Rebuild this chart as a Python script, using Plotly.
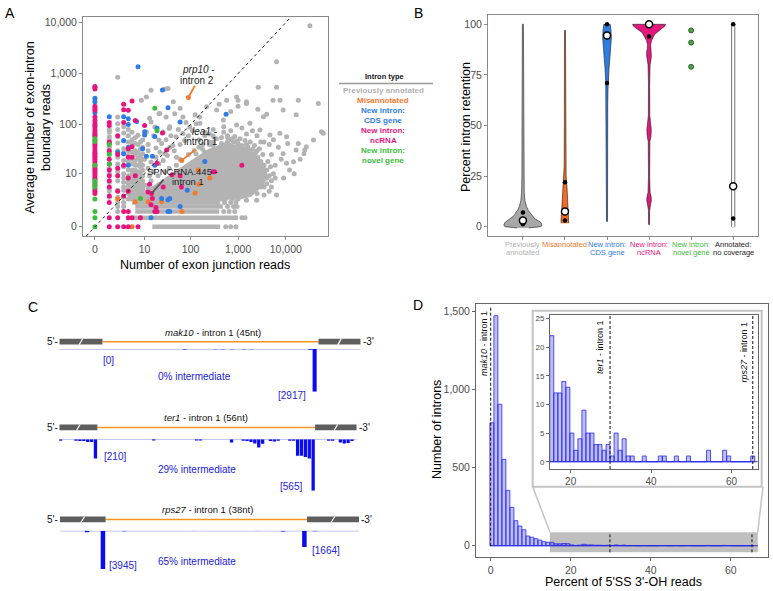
import numpy as np
import plotly.graph_objects as go

W, H = 773, 591
FONT = "Liberation Sans, Arial, Helvetica, sans-serif"

C_GRAY = "#b3b3b3"
C_ORANGE = "#f47a2c"
C_BLUE = "#2e7ce6"
C_PINK = "#e8157f"
C_GREEN = "#3dbd3d"
C_TXTBLUE = "#2222dd"

# ======================= Panel A data =======================
a_tick_values = [0, 10, 100, 1000, 10000]
a_tick_labels = ["0", "10", "100", "1,000", "10,000"]

# dense core of previously annotated introns (outline, in read counts)
gray_core_x = [8, 15, 22, 40, 70, 100, 160, 250, 400, 700, 1000, 1500, 2000, 2600, 3400, 3800, 3200, 2400, 1800, 1000, 200, 30]
gray_core_y = [3, 4.5, 6, 9, 13, 17, 23, 30, 35, 37, 36, 32, 26, 20, 14, 9, 6, 4.5, 3.2, 2.7, 2.7, 2.7]

# saturated horizontal rows of previously annotated introns
gray_rows_y = [0, 0.5, 1, 1.5, 2, 2.5, 3]
gray_rows_x0 = [15, 5, 6, 6, 5, 4, 4]
gray_rows_x1 = [420, 1000, 400, 480, 420, 600, 700]

gray_points = [
    (1, 71), (1, 57), (1, 35), (1, 12.8), (1, 6.5), (1, 4.6), (1, 2.8), (1, 80), (1, 50), (1, 28), (1, 10), (1, 4),
    (2, 850), (2, 140), (2, 104), (2, 80), (2, 57), (2, 43), (2, 30), (2, 22), (2, 16), (2, 11), (2, 7), (2, 4.2), (2, 2.8), (2, 2), (2, 1), (2, 1.5),
    (3, 90), (3, 68), (3, 47), (3, 33), (3, 27), (3, 19), (3, 14), (3, 10), (3, 6.5), (3, 4.2), (3, 2.8), (3, 2), (3, 1.5), (3, 5), (3, 8),
    (4, 80), (4, 60), (4, 45), (4, 30), (4, 24), (4, 18), (4, 12), (4, 9), (4, 7), (4, 5.5), (4, 4.5), (4, 3.5), (4, 2.5), (4, 6),
    (5, 70), (5, 50), (5, 40), (5, 28), (5, 20), (5, 16), (5, 12), (5, 10), (5, 8), (5, 6.5), (5, 5), (5, 4), (5, 3.5), (5, 3),
    (6, 55), (6, 42), (6, 30), (6, 25), (6, 19), (6, 15), (6, 12), (6, 10), (6, 8), (6, 7), (6, 5.5), (6, 4.5), (6, 3.5),
    (7, 61), (7, 40), (7, 28), (7, 21), (7, 15), (7, 11), (7, 9), (7, 7.1), (7, 6), (7, 5), (7, 4), (7, 3.5),
    (8, 45), (8, 32), (8, 24), (8, 18), (8, 14), (8, 11), (8, 9), (8, 7.5), (8, 6), (8, 5), (8, 4),
    (9, 49), (9, 35), (9, 26), (9, 20), (9, 11.8), (9, 15), (9, 9), (9, 7), (9, 6), (9, 5), (9, 4.5), (9, 3.5),
    (8.4, 300), (11, 350), (14, 470), (33, 510), (21, 163), (30, 140), (14, 112), (17, 89), (11, 71), (26, 71), (35, 83),
    (21, 49), (49, 57), (69, 66), (96, 89), (132, 104), (155, 140), (69, 140), (46, 163), (12, 30), (28, 26), (14, 17.6),
    (42, 38), (21, 16.2), (12, 40), (16, 60), (18, 34), (24, 42), (30, 50), (38, 60), (55, 80), (80, 110), (10, 20),
    (12, 13), (13, 9), (16, 11), (18, 22), (22, 28), (26, 19), (32, 24), (36, 35), (45, 30), (50, 22), (60, 40), (75, 48),
    (90, 60), (110, 75),
    (930, 350), (1500, 280), (5400, 300), (8800, 194), (48000, 260), (16500, 155), (355, 194), (218, 225), (125, 155),
    (60, 210), (43, 280), (22, 165), (13, 133), (36, 90), (158, 106), (490, 122), (930, 98), (1770, 106), (2870, 78),
    (4650, 62), (7500, 67), (11000, 42), (8800, 26), (16500, 31), (27000, 36), (38000, 49), (56000, 72), (14500, 17.8),
    (24000, 26), (28, 500), (2650, 540), (6400, 540), (6400, 1720), (32000, 8700), (18300, 300), (575, 300), (1000, 300),
    (1500, 260), (1000, 230), (3400, 143), (3980, 160), (7560, 300), (2600, 200), (700, 180), (400, 250),
    (10400, 57), (18300, 42), (25000, 31), (61000, 67), (10400, 16.5), (6400, 3.2), (2460, 2.3), (1500, 2.3), (3000, 5),
    (4000, 8), (9000, 8), (12000, 12), (20000, 20), (15000, 10), (5000, 25), (7000, 35), (3500, 45), (5500, 50), (8000, 20),
    (6000, 15), (4500, 40), (3000, 45), (2500, 60), (2000, 75), (1500, 65), (1200, 85), (700, 75), (500, 90), (300, 80),
    (250, 65), (200, 70), (600, 60),
    (120, 30), (150, 35), (180, 40), (200, 28), (250, 45), (300, 38), (350, 52), (400, 35), (450, 42), (550, 40), (600, 55),
    (700, 38), (800, 45), (900, 36), (1000, 42), (1200, 38), (1300, 33), (1500, 40), (1700, 30), (2000, 32), (2300, 27),
    (2600, 22), (3000, 18), (3500, 15), (4000, 12), (4500, 9), (5000, 7), (4000, 6), (3500, 5), (2500, 3.5), (300, 60),
    (500, 70), (200, 60), (150, 50), (90, 25), (60, 20), (50, 15), (35, 13), (28, 11), (20, 9), (14, 7), (11, 5.5),
    (12, 4.5), (10, 3.8), (15, 3.5), (20, 3.5),
    (300, 45), (450, 55), (650, 50), (850, 58), (1100, 52), (1400, 48), (1800, 45), (2200, 38), (2800, 33), (3300, 25),
    (4200, 18), (4800, 14), (5500, 10), (6000, 8), (5000, 5), (4500, 4), (3500, 3.2), (250, 40), (180, 32), (130, 26),
    (600, 45), (750, 52), (950, 47), (1600, 36), (2500, 30),
    (550, 0), (700, 0), (900, 0), (1200, 0.5), (1400, 0.5), (500, 1), (650, 1), (850, 1), (600, 1.5), (800, 1.5),
    (950, 1.5), (520, 2), (700, 2), (900, 2), (750, 2.5), (1000, 2.5), (900, 3), (1100, 3),
]

misannotated_points = [(90, 340), (65, 19), (145, 12), (255, 8), (150, 5.8), (125, 3.6), (24, 2.1), (12, 2.1),
                       (6, 2.1), (2, 2.5), (66, 1.0), (5, 0)]

cds_points = [(0, 540), (0, 330), (0, 280), (0, 170), (0, 95), (0, 62), (0, 26), (1, 143), (3, 143), (4, 130), (4, 100),
              (4, 35), (4, 15), (3, 48), (7, 1370), (25, 480), (6.5, 115), (19, 84), (33, 215), (10, 72), (10, 62),
              (17, 58), (9, 33), (11, 23), (15, 23), (200, 18), (85, 4.2), (33, 2.4), (60, 1.5), (33, 1.0), (14, 0.5),
              (560, 160), (60, 112), (17, 15), (36, 2.6), (24, 2.6), (36, 1.0), (2, 28), (3, 26)]

ncrna_points = [(0, 560), (0, 500), (0, 230), (0, 210), (0, 190), (0, 140), (0, 120), (0, 105), (0, 90), (0, 80),
                (0, 72), (0, 65), (0, 58), (0, 48), (0, 42), (0, 38), (0, 34), (0, 30), (0, 27), (0, 24), (0, 22),
                (0, 20), (0, 18), (0, 16), (0, 14.5), (0, 13), (0, 12), (0, 11), (0, 10), (0, 9), (0, 8), (0, 7.5),
                (0, 6.5), (0, 5.5), (0, 4.5), (0, 4), (0, 3.5),
                (1, 110), (1, 95), (1, 45), (1, 42), (1, 30), (1, 20), (1, 16), (1, 12), (1, 9), (1, 7), (1, 5), (1, 3),
                (1, 2), (1, 0.5), (1, 0), (2, 60), (2, 25), (2, 13), (2, 9), (2, 4), (2, 0.5), (2, 0), (3, 250),
                (3, 195), (3, 110), (3, 15), (3, 3), (3, 1), (3, 0), (4, 190), (4, 22), (4, 8), (4, 4), (4, 1),
                (4, 0.5), (4, 0), (5, 290), (5, 36), (5, 22), (5, 0.5), (6, 120), (6, 9), (10, 95), (25, 68),
                (19, 16.5), (300, 11), (60, 9), (40, 9.5), (64, 5), (26, 5), (15, 2.6), (17, 1), (8, 0.5), (7, 0),
                (13, 5.8), (12, 3.8), (18, 1.4), (1200, 15), (320, 11), (31, 31), (14, 1.7), (19, 1.0), (4, 33),
                (14.4, 3.5)]

novel_points = [(0, 52), (0, 46), (0, 15), (0, 7), (0, 6), (0, 5), (0, 2.5), (0, 1), (0, 0.5), (0, 0), (19, 75),
                (8, 2.6), (1, 40), (1, 25), (17, 210), (1, 16)]

# labelled introns (junction reads, boundary reads)
prp10_point = (90, 340)
lea1_point = (65, 19)
spncrna445_point = (14.4, 3.5)

legend_labels = ["Previously annotated", "Misannotated", "New intron:", "CDS gene", "New intron:", "ncRNA",
                 "New intron:", "novel gene"]

# ======================= Panel B data =======================
b_label_line1 = ["Previously", "Misannotated", "New intron:", "New intron:", "New intron:", "Annotated:"]
b_label_line2 = ["annotated", "", "CDS gene", "ncRNA", "novel gene", "no coverage"]
b_label_colors = [C_GRAY, C_ORANGE, C_BLUE, C_PINK, C_GREEN, "#1a1a1a"]
b_fill_colors = ["#a8a8a8", "#f26b22", "#2f7de1", "#e5177e", C_GREEN, "#ffffff"]

b_prev_y = [-0.6, -0.3, 0, 0.5, 1, 2, 3, 4, 5, 6, 7, 8, 10, 13, 17, 25, 50, 100]
b_prev_hw = [0.14, 0.33, 0.42, 0.45, 0.45, 0.43, 0.36, 0.28, 0.24, 0.19, 0.17, 0.13, 0.083, 0.047, 0.031, 0.024, 0.017, 0.012]
b_mis_y = [1.7, 3, 6, 10, 15, 20, 25, 30, 50, 97]
b_mis_hw = [0.09, 0.095, 0.083, 0.071, 0.059, 0.047, 0.028, 0.019, 0.014, 0.012]
b_cds_y = [2.5, 40, 60, 68, 72, 78, 84, 89, 93, 97, 100]
b_cds_hw = [0.012, 0.014, 0.017, 0.024, 0.031, 0.047, 0.071, 0.095, 0.102, 0.095, 0.076]
b_nc_y = [1, 8, 11, 13, 15, 17, 25, 42, 45, 48, 51, 55, 70, 80, 84, 86, 88, 90, 92, 93.5, 95, 96, 97, 98, 99, 100]
b_nc_hw = [0.012, 0.014, 0.036, 0.055, 0.047, 0.024, 0.014, 0.019, 0.047, 0.052, 0.036, 0.017, 0.014, 0.024, 0.055,
           0.059, 0.043, 0.038, 0.062, 0.095, 0.131, 0.166, 0.237, 0.309, 0.368, 0.392]
b_none_y = [-0.4, 0, 100]
b_none_hw = [0.02, 0.038, 0.038]

b_q1 = [1.2, 3, 71, 94, None, 4]
b_median = [3, 7.5, 94.5, 100, None, 20]
b_q3 = [7, 22, 100, 100, None, 100]
b_novel_values = [97, 91, 79]

# ======================= Panel C data =======================
c_titles = ["<i>mak10</i> - intron 1 (45nt)", "<i>ter1</i> - intron 1 (56nt)", "<i>rps27</i> - intron 1 (38nt)"]
c_intron_nt = [45, 56, 38]
c_exon_nt = [(9.0, 8.8), (9.8, 10.7), (8.6, 9.8)]
c_pos = [
    [17.2, 23.5, 25, 27, 29.5, 31, 43.3, 44.2],
    [-9.5, -5.5, -4.5, -3.5, -2.5, -1.5, -0.5, 14.5, 25.5, 26.5, 34.5, 37.5, 38.5, 39.5, 40.5, 41.5, 42.5, 44.5,
     45.5, 46.5, 49.5, 50.5, 51.5, 52.5, 53.5, 54.5, 55.5, 59.5, 60.5, 62.5, 63.5, 64.5, 65.5],
    [-3.5, -0.5, 3.5, 16.5, 28.5, 33.5, 37.5, 39.5],
]
c_reads = [
    [35, 25, 25, 25, 25, 25, 50, 2917],
    [15, 15, 20, 20, 30, 30, 210, 12, 12, 12, 36, 15, 20, 30, 45, 90, 50, 20, 25, 15, 15, 15, 180, 180, 195, 210,
     565, 15, 15, 35, 45, 40, 20],
    [170, 3945, 50, 40, 40, 90, 1664, 60],
]
c_labels_5ss = ["[0]", "[210]", "[3945]"]
c_labels_3ss = ["[2917]", "[565]", "[1664]"]
c_intermediate = ["0% intermediate", "29% intermediate", "65% intermediate"]

# ======================= Panel D data =======================
d_bins = list(range(0, 66))
d_counts = [786, 1470, 904, 552, 354, 245, 160, 126, 102, 62, 54, 45, 36, 26, 22, 22, 12, 12, 14, 13, 5, 2, 4, 9,
            5, 5, 3, 3, 2, 3, 1, 5, 2, 4, 1, 1, 0, 0, 1, 0, 0, 0, 1, 1, 0, 0, 1, 0, 0, 1, 0, 0, 0, 0, 2, 0, 0, 0,
            2, 1, 0, 0, 0, 0, 0, 1]
d_inset_min = 15
d_marked_names = ["<i>mak10</i> - intron 1", "<i>ter1</i> - intron 1", "<i>rps27</i> - intron 1"]
d_marked_pct = [0, 29.8, 65.3]
d_main_ticks = [0, 500, 1000, 1500]
d_main_ticklabels = ["0", "500", "1,000", "1,500"]

# ======================= helpers =======================
def T(v):
    return np.log10(np.asarray(v, dtype=float) + 1.0)

def dom_x(a, b):
    return [a / W, b / W]

def dom_y(top, bottom):
    return [1 - bottom / H, 1 - top / H]

fig = go.Figure()
ann = []
shapes = []

def text(x, y, s, size, color="#000", xanchor="center", yanchor="middle", angle=0):
    ann.append(dict(x=x / W, y=1 - y / H, xref="paper", yref="paper", text=s, showarrow=False,
                    font=dict(size=size, color=color, family=FONT), xanchor=xanchor, yanchor=yanchor,
                    textangle=angle, borderpad=0))

def hline_paper(x0, x1, y, color, width):
    shapes.append(dict(type="line", xref="paper", yref="paper", x0=x0 / W, x1=x1 / W, y0=1 - y / H, y1=1 - y / H,
                       line=dict(color=color, width=width)))

# ======================= Panel A traces =======================
fig.add_trace(go.Scatter(x=T(gray_core_x), y=T(gray_core_y), fill="toself", fillcolor=C_GRAY, mode="lines",
                         line=dict(color=C_GRAY, width=4), xaxis="x", yaxis="y", hoverinfo="skip"))
for ry, rx0, rx1 in zip(gray_rows_y, gray_rows_x0, gray_rows_x1):
    fig.add_trace(go.Scatter(x=T([rx0, rx1]), y=T([ry, ry]), mode="lines", line=dict(color=C_GRAY, width=4.5),
                             xaxis="x", yaxis="y", hoverinfo="skip"))

for pts, col in [(gray_points, C_GRAY), (misannotated_points, C_ORANGE), (cds_points, C_BLUE),
                 (ncrna_points, C_PINK), (novel_points, C_GREEN)]:
    xs, ys = zip(*pts)
    fig.add_trace(go.Scatter(x=T(xs), y=T(ys), mode="markers", marker=dict(color=col, size=5, line=dict(width=0)),
                             xaxis="x", yaxis="y", hoverinfo="skip"))

# diagonal y = x
shapes.append(dict(type="line", xref="x", yref="y", x0=-0.18, y0=-0.18, x1=4.11, y1=4.11,
                   line=dict(color="#222", width=1, dash="3px,3px")))

# labelled intron arrows
for (pt, ax, ay, col) in [(prp10_point, 7.2, -13.3, C_ORANGE), (lea1_point, 15.3, -12, C_ORANGE),
                          (spncrna445_point, 13.3, -15.3, "#555555")]:
    ann.append(dict(x=float(T(pt[0])), y=float(T(pt[1])), xref="x", yref="y", text="", showarrow=True,
                    arrowhead=0, arrowwidth=1.8, arrowcolor=col, ax=ax, ay=ay, axref="pixel", ayref="pixel"))
text(198, 70, "<i>prp10</i> -", 10, "#222")
text(197, 80.5, "intron 2", 10, "#222")
text(204, 131, "<i>lea1</i> -", 10, "#222")
text(201, 141.5, "intron 1", 10, "#222")
text(182, 171.5, "SPNCRNA.445 -", 9.5, "#222")
text(188, 181.5, "intron 1", 9.5, "#222")

# axis titles A
text(205, 265, "Number of exon junction reads", 12.5)
text(37.5, 128, "Average number of exon-intron<br>boundary reads", 12.5, angle=-90)

# legend A
text(384, 77, "<b>Intron type</b>", 7.5, "#111")
hline_paper(339, 433, 83.5, "#9a9a9a", 1.3)
leg_colors = [C_GRAY, C_ORANGE, C_BLUE, C_BLUE, C_PINK, C_PINK, C_GREEN, C_GREEN]
for i, (lab, col) in enumerate(zip(legend_labels, leg_colors)):
    text(383, 90.5 + 10 * i, "<b>" + lab + "</b>", 8, col)

# ======================= Panel B traces =======================
b_profiles = [(b_prev_y, b_prev_hw), (b_mis_y, b_mis_hw), (b_cds_y, b_cds_hw), (b_nc_y, b_nc_hw), None,
              (b_none_y, b_none_hw)]
for i, prof in enumerate(b_profiles):
    if prof is None:
        continue
    cx = i + 1
    ys = np.array(prof[0], dtype=float)
    hw = np.array(prof[1], dtype=float)
    xs = np.concatenate([cx - hw, (cx + hw)[::-1]])
    yy = np.concatenate([ys, ys[::-1]])
    fig.add_trace(go.Scatter(x=xs, y=yy, fill="toself", fillcolor=b_fill_colors[i], mode="lines",
                             line=dict(color="#1a1a1a", width=0.6), xaxis="x2", yaxis="y2", hoverinfo="skip"))

qx, qy = [], []
for i, (a, b) in enumerate(zip(b_q1, b_q3)):
    if a is None:
        continue
    qx += [i + 1, i + 1]
    qy += [a, b]
fig.add_trace(go.Scatter(x=qx, y=qy, mode="markers", marker=dict(color="#000", size=4.5), xaxis="x2", yaxis="y2",
                         hoverinfo="skip"))
mx = [i + 1 for i, m in enumerate(b_median) if m is not None]
my = [m for m in b_median if m is not None]
fig.add_trace(go.Scatter(x=mx, y=my, mode="markers",
                         marker=dict(color="#fff", size=7, line=dict(color="#000", width=1.5)),
                         xaxis="x2", yaxis="y2", hoverinfo="skip"))
fig.add_trace(go.Scatter(x=[5] * len(b_novel_values), y=b_novel_values, mode="markers",
                         marker=dict(color="#44a844", size=5, line=dict(color="#2b3d2b", width=0.8)),
                         xaxis="x2", yaxis="y2", hoverinfo="skip"))
for i, (l1, l2, col) in enumerate(zip(b_label_line1, b_label_line2, b_label_colors)):
    for txt, yy in [(l1, 244.3), (l2, 252.5)]:
        if txt:
            ann.append(dict(x=i + 1, y=1 - yy / H, xref="x2", yref="paper", text=txt, showarrow=False,
                            font=dict(size=7.5, color=col, family=FONT), xanchor="center", yanchor="middle",
                            borderpad=0))
text(466, 127, "Percent intron retention", 12.5, angle=-90)

# ======================= Panel C traces =======================
c_x_pix = [(59.3, 360.7), (59.3, 356.7), (60, 359)]
c_base = [349, 439.3, 530.7]
c_depth = [391.7, 490.7, 569.3]
c_box = [(338.8, 344.6), (424.5, 430.3), (516.5, 522.3)]
c_title_y = [332.3, 417.7, 509.3]
c_title_x = [213, 206, 207]
c_5ss_xy = [(108, 360), (115, 456), (123.3, 565)]
c_3ss_xy = [(292, 395), (290.7, 486), (326, 550.7)]
c_int_xy = [(194, 376.7), (196.7, 469.3), (196.7, 561)]
c_right_lbl_x = [361.5, 357.5, 359.8]
c_layout_axes = {}
for k in range(3):
    xa = "x%d" % (k + 3)
    ya = "y%d" % (k + 3)
    le, re = c_exon_nt[k]
    L = c_intron_nt[k]
    fig.add_trace(go.Bar(x=c_pos[k], y=[-r for r in c_reads[k]], width=0.85, marker=dict(color="#0b0bf0", line=dict(width=0)),
                         xaxis=xa, yaxis=ya, hoverinfo="skip"))
    c_layout_axes["xaxis%d" % (k + 3)] = dict(domain=dom_x(*c_x_pix[k]), range=[-le, L + re], visible=False,
                                              anchor=ya, fixedrange=True)
    c_layout_axes["yaxis%d" % (k + 3)] = dict(domain=dom_y(c_base[k], c_depth[k]), range=[-max(c_reads[k]), 0],
                                              visible=False, anchor=xa, fixedrange=True)
    shapes.append(dict(type="line", xref=xa, yref=ya, x0=-le, x1=L + re, y0=0, y1=0,
                       line=dict(color="#b4b8f2", width=1.5), layer="below"))
    yb0 = 1 - c_box[k][1] / H
    yb1 = 1 - c_box[k][0] / H
    ym = (yb0 + yb1) / 2
    shapes.append(dict(type="line", xref=xa, yref="paper", x0=0, x1=L, y0=ym, y1=ym,
                       line=dict(color="#f7941d", width=1.5)))
    for (e0, e1) in [(-le, 0), (L, L + re)]:
        shapes.append(dict(type="rect", xref=xa, yref="paper", x0=e0, x1=e1, y0=yb0, y1=yb1,
                           fillcolor="#5e5e5e", line=dict(width=0)))
        mid = (e0 + e1) / 2
        dx = 0.35 if k != 1 else 0.45
        shapes.append(dict(type="line", xref=xa, yref="paper", x0=mid - dx, x1=mid + dx, y0=yb0, y1=yb1,
                           line=dict(color="#ffffff", width=1.2)))
    text(c_title_x[k], c_title_y[k], c_titles[k], 9.5, "#111")
    text(59, (c_box[k][0] + c_box[k][1]) / 2, "5'-", 10, "#111", xanchor="right")
    text(c_right_lbl_x[k], (c_box[k][0] + c_box[k][1]) / 2, "-3'", 10, "#111", xanchor="left")
    text(c_5ss_xy[k][0], c_5ss_xy[k][1], c_labels_5ss[k], 10, C_TXTBLUE)
    text(c_3ss_xy[k][0], c_3ss_xy[k][1], c_labels_3ss[k], 10, C_TXTBLUE)
    text(c_int_xy[k][0], c_int_xy[k][1], c_intermediate[k], 10, C_TXTBLUE)

# ======================= Panel D traces =======================
bar_fill = "rgba(40,40,255,0.30)"
bar_line = "#2a2ae6"
fig.add_trace(go.Bar(x=d_bins, y=d_counts, offset=-0.2, width=1, marker=dict(color=bar_fill, line=dict(color=bar_line, width=0.8)),
                     xaxis="x6", yaxis="y6", hoverinfo="skip"))
ins_bins = [b for b in d_bins if b >= d_inset_min]
ins_counts = [c for b, c in zip(d_bins, d_counts) if b >= d_inset_min]
fig.add_trace(go.Bar(x=ins_bins, y=ins_counts, offset=-0.2, width=1, marker=dict(color=bar_fill, line=dict(color=bar_line, width=0.8)),
                     xaxis="x7", yaxis="y7", hoverinfo="skip"))

shapes.append(dict(type="rect", xref="x6", yref="y6", x0=14.8, x1=66.75, y0=-42, y1=86, fillcolor="#bfbfbf",
                   line=dict(width=0), layer="below"))
shapes.append(dict(type="line", xref="x6", yref="y6", x0=-0.2, x1=66.8, y0=0, y1=0, line=dict(color=bar_line, width=1)))
shapes.append(dict(type="line", xref="x7", yref="y7", x0=14.8, x1=66.8, y0=0, y1=0, line=dict(color=bar_line, width=1)))
shapes.append(dict(type="rect", xref="paper", yref="paper", x0=532.7 / W, x1=761.7 / W, y0=1 - 486.7 / H,
                   y1=1 - 310.7 / H, fillcolor="#ffffff", line=dict(color="#c4c4c4", width=2), layer="below"))
shapes.append(dict(type="line", xref="paper", yref="paper", x0=550 / W, y0=1 - 532.3 / H, x1=532.7 / W,
                   y1=1 - 486.7 / H, line=dict(color="#c4c4c4", width=1.5)))
shapes.append(dict(type="line", xref="paper", yref="paper", x0=757.7 / W, y0=1 - 532.3 / H, x1=763 / W,
                   y1=1 - 486.7 / H, line=dict(color="#c4c4c4", width=1.5)))
shapes.append(dict(type="line", xref="x6", yref="y6", x0=d_marked_pct[0], x1=d_marked_pct[0], y0=0, y1=1530,
                   line=dict(color="#111", width=1, dash="3px,2px")))
for p in d_marked_pct[1:]:
    shapes.append(dict(type="line", xref="x6", yref="y6", x0=p, x1=p, y0=-42, y1=86,
                       line=dict(color="#111", width=1, dash="3px,2px")))
    shapes.append(dict(type="line", xref="x7", yref="y7", x0=p, x1=p, y0=-1.27, y1=25.6,
                       line=dict(color="#111", width=1, dash="3px,2px")))
text(484, 344, d_marked_names[0], 9, "#111", angle=-90)
text(600, 347, d_marked_names[1], 9, "#111", angle=-90)
text(743.5, 352, d_marked_names[2], 9, "#111", angle=-90)
text(623, 581.5, "Percent of 5'SS 3'-OH reads", 12.5)
text(437, 430, "Number of introns", 12.5, angle=-90)

# panel letters
text(10, 13, "A", 14)
text(418, 13, "B", 14)
text(33, 307, "C", 14)
text(418, 305, "D", 14)

# ======================= Layout =======================
base_axis = dict(showline=True, mirror=True, linecolor="#8a8a8a", linewidth=1, ticks="outside", ticklen=3,
                 tickcolor="#8a8a8a", tickfont=dict(size=10.5, color="#4d4d4d", family=FONT), showgrid=False,
                 zeroline=False, fixedrange=True)
dark_axis = dict(base_axis, linecolor="#666666", tickcolor="#666666")

layout = dict(
    width=W, height=H, autosize=False, margin=dict(l=0, r=0, t=0, b=0),
    paper_bgcolor="#ffffff", plot_bgcolor="rgba(0,0,0,0)", showlegend=False, barmode="overlay",
    font=dict(family=FONT), hovermode=False,
    xaxis=dict(base_axis, domain=dom_x(83, 328), range=[-0.25, 4.885], tickmode="array",
               tickvals=list(T(a_tick_values)), ticktext=a_tick_labels, anchor="y"),
    yaxis=dict(base_axis, domain=dom_y(17, 236), range=[-0.18, 4.11], tickmode="array",
               tickvals=list(T(a_tick_values)), ticktext=a_tick_labels, anchor="x"),
    xaxis2=dict(base_axis, domain=dom_x(488, 758), range=[0.17, 6.59], tickmode="array",
                tickvals=[1, 2, 3, 4, 5, 6], showticklabels=False, anchor="y2"),
    yaxis2=dict(base_axis, domain=dom_y(15, 236), range=[-4.6, 104.6], tickmode="array",
                tickvals=[0, 25, 50, 75, 100], anchor="x2"),
    xaxis6=dict(dark_axis, domain=dom_x(476, 768), range=[-3.67, 69.3], tickmode="array",
                tickvals=[0, 20, 40, 60], anchor="y6"),
    yaxis6=dict(dark_axis, domain=dom_y(304.3, 557.3), range=[-74, 1543], tickmode="array",
                tickvals=d_main_ticks, ticktext=d_main_ticklabels, anchor="x6"),
    xaxis7=dict(dark_axis, domain=dom_x(550, 757.6), range=[14.86, 66.5], tickmode="array",
                tickvals=[20, 40, 60], tickfont=dict(size=10, color="#4d4d4d", family=FONT), anchor="y7"),
    yaxis7=dict(dark_axis, domain=dom_y(315, 469), range=[-1.27, 25.6], tickmode="array",
                tickvals=[0, 5, 10, 15, 20, 25], tickfont=dict(size=8, color="#4d4d4d", family=FONT), anchor="x7"),
    annotations=ann,
    shapes=shapes,
)
layout.update(c_layout_axes)
fig.update_layout(**layout)
fig.write_html("out.html", config={"displayModeBar": False, "staticPlot": True},
               post_script="document.body.style.margin='0px';document.body.style.padding='0px';")
